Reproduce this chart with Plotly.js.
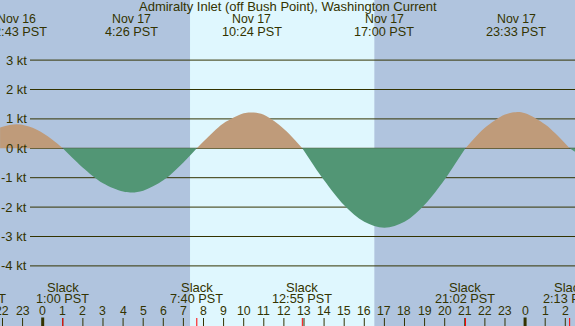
<!DOCTYPE html>
<html>
<head>
<meta charset="utf-8">
<script src="https://cdn.plot.ly/plotly-3.0.1.min.js"></script>
<style>html,body{margin:0;padding:0;background:#b0c4de;}#chart{width:575px;height:326px;}</style>
</head>
<body>
<div id="chart"></div>
<script>
// Hours relative to Nov 17 00:00 PST
const hours = [-2.12,-1.283,-0.5,0,0.5,1,1.5,2,3,4,4.433,5,6,7,7.667,8,8.5,9,10,10.4,11,12,12.5,12.917,13.5,14,15,16,17,18,19,20,20.5,21.033,21.5,22,23,23.55,24,25,25.5,26.217,26.48];
const speeds = [0.71,0.82,0.70,0.52,0.28,0,-0.34,-0.66,-1.19,-1.47,-1.50,-1.44,-1.09,-0.48,0,0.23,0.56,0.85,1.19,1.22,1.14,0.66,0.32,0,-0.60,-1.09,-1.94,-2.50,-2.70,-2.50,-1.92,-1.06,-0.55,0,0.36,0.70,1.15,1.23,1.19,0.81,0.51,0,-0.12];

const extremaHours = [-1.283, 4.433, 10.4, 17.0, 23.55];
const extremaDates = ["Nov 16","Nov 17","Nov 17","Nov 17","Nov 17"];
const extremaTimes = ["22:43 PST","4:26 PST","10:24 PST","17:00 PST","23:33 PST"];

const slackHours = [-3.3, 1.0, 7.667, 12.917, 21.033, 26.217];
const slackTimes = ["20:42 PST","1:00 PST","7:40 PST","12:55 PST","21:02 PST","2:13 PST"];

const midnightHours = [0, 24];
const sunrise = 7.33, sunset = 16.5;

const tickHours = [-2,-1,0,1,2,3,4,5,6,7,8,9,10,11,12,13,14,15,16,17,18,19,20,21,22,23,24,25,26];
const tickLabels = ["22","23","0","1","2","3","4","5","6","7","8","9","10","11","12","13","14","15","16","17","18","19","20","21","22","23","0","1","2"];

const ktTicks = [3,2,1,0,-1,-2,-3,-4];
const ktLabels = ["3 kt","2 kt","1 kt","0 kt","-1 kt","-2 kt","-3 kt","-4 kt"];

const title = "Admiralty Inlet (off Bush Point), Washington Current";

const NIGHT = "#b0c4de", DAY = "#dff7fe", FLOOD = "#bf9b7a", EBB = "#529675", FG = "#333300";
const W = 575, H = 326;
const XR = [-2.124, 26.483], YR = [-6.044, 5.044];
const FONT = "Liberation Sans, Arial, sans-serif";

// split curve into segments at slack (zero) points
const traces = [];
let seg = {x: [], y: []};
for (let i = 0; i < hours.length; i++) {
  seg.x.push(hours[i]); seg.y.push(speeds[i]);
  if (speeds[i] === 0 && seg.x.length > 1) {
    traces.push(seg); seg = {x: [hours[i]], y: [speeds[i]]};
  }
}
if (seg.x.length > 1) traces.push(seg);
const data = traces.map(s => {
  const pos = s.y.some(v => v > 0);
  return {x: s.x, y: s.y, type: 'scatter', mode: 'lines', fill: 'tozeroy',
    fillcolor: pos ? FLOOD : EBB, line: {width: 0, shape: 'spline', color: pos ? FLOOD : EBB},
    hoverinfo: 'skip', showlegend: false, cliponaxis: true};
});

const toPaperX = h => (h - XR[0]) / (XR[1] - XR[0]);
const pyTop = px => 1 - px / H;

const shapes = [];
shapes.push({type: 'rect', layer: 'below', xref: 'x', yref: 'paper', x0: sunrise, x1: sunset, y0: 0, y1: 1, fillcolor: DAY, line: {width: 0}});
ktTicks.forEach(v => shapes.push({type: 'line', layer: 'below', xref: 'paper', yref: 'y', x0: 30 / W, x1: 1, y0: v, y1: v, line: {color: FG, width: 1}}));
tickHours.forEach(h => shapes.push({type: 'line', layer: 'above', xref: 'x', yref: 'paper', x0: h, x1: h, y0: 0, y1: 8 / H, line: {color: FG, width: 1}}));
midnightHours.forEach(h => shapes.push({type: 'line', layer: 'above', xref: 'x', yref: 'paper', x0: h, x1: h, y0: 0, y1: 8.5 / H, line: {color: FG, width: 3}}));
slackHours.forEach(h => shapes.push({type: 'line', layer: 'above', xref: 'x', yref: 'paper', x0: h, x1: h, y0: 0, y1: 8 / H, line: {color: '#ff0000', width: 1}}));

const ann = [];
const fnt = s => ({family: FONT, size: s, color: FG});
ann.push({text: title, xref: 'paper', yref: 'paper', x: 0.5, y: pyTop(7), xanchor: 'center', yanchor: 'middle', showarrow: false, font: fnt(13)});
ktTicks.forEach((v, i) => ann.push({text: ktLabels[i], xref: 'paper', yref: 'y', x: 28.5 / W, y: v, xanchor: 'right', yanchor: 'middle', showarrow: false, font: fnt(13)}));
extremaHours.forEach((h, i) => {
  ann.push({text: extremaDates[i], xref: 'paper', yref: 'paper', x: toPaperX(h), y: pyTop(19.5), xanchor: 'center', yanchor: 'middle', showarrow: false, font: fnt(12.3)});
  ann.push({text: extremaTimes[i], xref: 'paper', yref: 'paper', x: toPaperX(h), y: pyTop(32), xanchor: 'center', yanchor: 'middle', showarrow: false, font: fnt(12.7)});
});
slackHours.forEach((h, i) => {
  ann.push({text: "Slack", xref: 'paper', yref: 'paper', x: toPaperX(h), y: pyTop(287), xanchor: 'center', yanchor: 'middle', showarrow: false, font: fnt(13)});
  ann.push({text: slackTimes[i], xref: 'paper', yref: 'paper', x: toPaperX(h), y: pyTop(299), xanchor: 'center', yanchor: 'middle', showarrow: false, font: fnt(12.7)});
});
tickHours.forEach((h, i) => ann.push({text: tickLabels[i], xref: 'paper', yref: 'paper', x: toPaperX(h), y: pyTop(311), xanchor: 'center', yanchor: 'middle', showarrow: false, font: fnt(12.3)}));

const layout = {
  width: W, height: H,
  margin: {l: 0, r: 0, t: 0, b: 0, pad: 0},
  paper_bgcolor: NIGHT, plot_bgcolor: NIGHT,
  showlegend: false,
  xaxis: {range: XR, showgrid: false, zeroline: false, showline: false, showticklabels: false, ticks: '', fixedrange: true},
  yaxis: {range: YR, showgrid: false, zeroline: false, showline: false, showticklabels: false, ticks: '', fixedrange: true},
  shapes: shapes, annotations: ann
};
Plotly.newPlot('chart', data, layout, {staticPlot: true, displayModeBar: false});
</script>
</body>
</html>
